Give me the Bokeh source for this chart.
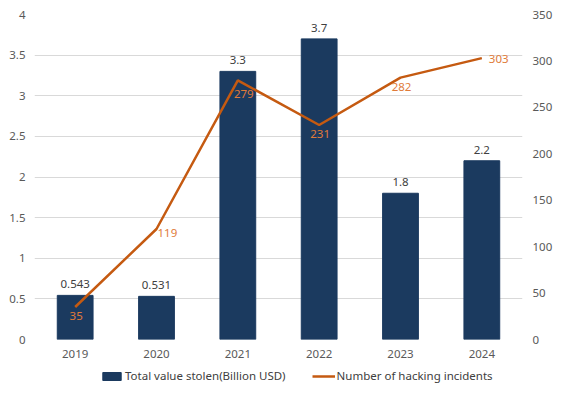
from bokeh.plotting import figure
from bokeh.layouts import column
from bokeh.models import (ColumnDataSource, Range1d, LinearAxis, FixedTicker, LabelSet,
                          Legend, LegendItem)
from bokeh.core.properties import value
from bokeh.embed import file_html
from bokeh.resources import INLINE

years = ["2019", "2020", "2021", "2022", "2023", "2024"]
stolen = [0.543, 0.531, 3.3, 3.7, 1.8, 2.2]
stolen_text = ["0.543", "0.531", "3.3", "3.7", "1.8", "2.2"]
incidents = [35, 119, 279, 231, 282, 303]
incidents_text = ["35", "119", "279", "231", "282", "303"]
left_ticks = [0, 0.5, 1, 1.5, 2, 2.5, 3, 3.5, 4]
left_tick_labels = ["0", "0.5", "1", "1.5", "2", "2.5", "3", "3.5", "4"]
right_ticks = [0, 50, 100, 150, 200, 250, 300, 350]
series_names = ["Total value stolen(Billion USD)", "Number of hacking incidents"]

FONT = "Noto Sans"
FS = "11.5px"
BAR = "#1B3A5F"
LINE = "#C55A11"
LBL_ORANGE = "#E07B39"
GRAY = "#404040"

src = ColumnDataSource(dict(year=years, stolen=stolen, stolen_text=stolen_text,
                            incidents=incidents, incidents_text=incidents_text))


def subset(idx):
    return ColumnDataSource(dict(year=[years[i] for i in idx],
                                 incidents=[incidents[i] for i in idx],
                                 incidents_text=[incidents_text[i] for i in idx]))


p = figure(width=555, height=367, x_range=years, y_range=Range1d(0, 4),
           output_backend="svg", toolbar_location=None,
           min_border_left=34, min_border_right=29, min_border_top=14, min_border_bottom=28)
p.outline_line_color = None
p.extra_y_ranges = {"inc": Range1d(0, 350)}
p.x_range.range_padding = 0

bars = p.vbar(x="year", top="stolen", width=0.44, source=src, color=BAR)
line = p.line(x="year", y="incidents", source=src, y_range_name="inc",
              line_color=LINE, line_width=2.5)

# axes
p.yaxis.ticker = FixedTicker(ticks=left_ticks)
p.yaxis.major_label_overrides = {t: l for t, l in zip(left_ticks, left_tick_labels)}
right = LinearAxis(y_range_name="inc", ticker=FixedTicker(ticks=right_ticks))
p.add_layout(right, "right")
for ax in [p.yaxis[0], right, p.xaxis[0]]:
    ax.axis_line_color = None
    ax.major_tick_line_color = None
    ax.minor_tick_line_color = None
    ax.major_tick_out = 0
    ax.major_tick_in = 0
    ax.major_label_text_font = FONT
    ax.major_label_text_font_size = FS
    ax.major_label_text_color = "#595959"
p.yaxis[0].major_label_standoff = 9
right.major_label_standoff = 10
p.xaxis.major_label_standoff = 10

p.xgrid.grid_line_color = None
p.ygrid.grid_line_color = "#D9D9D9"
p.ygrid.grid_line_width = 1

# bar labels
p.add_layout(LabelSet(x="year", y="stolen", text="stolen_text", source=src,
                      text_align="center", text_baseline="bottom", y_offset=7,
                      text_font=value(FONT), text_font_size=FS, text_color=GRAY))
# line labels below points
p.add_layout(LabelSet(x="year", y="incidents", text="incidents_text", source=subset([0, 3, 4]),
                      y_range_name="inc",
                      text_align="center", text_baseline="top", y_offset=-5, x_offset=1,
                      text_font=value(FONT), text_font_size=FS, text_color=LBL_ORANGE))
p.add_layout(LabelSet(x="year", y="incidents", text="incidents_text", source=subset([2]),
                      y_range_name="inc",
                      text_align="center", text_baseline="top", y_offset=-10, x_offset=6,
                      text_font=value(FONT), text_font_size=FS, text_color=LBL_ORANGE))
# line labels right of points
p.add_layout(LabelSet(x="year", y="incidents", text="incidents_text", source=subset([1]),
                      y_range_name="inc",
                      text_align="left", text_baseline="top", y_offset=0, x_offset=1,
                      text_font=value(FONT), text_font_size=FS, text_color=LBL_ORANGE))
p.add_layout(LabelSet(x="year", y="incidents", text="incidents_text", source=subset([5]),
                      y_range_name="inc",
                      text_align="left", text_baseline="middle", y_offset=-1, x_offset=7,
                      text_font=value(FONT), text_font_size=FS, text_color=LBL_ORANGE))

# legend strip below the chart (its frame aligns with the chart's frame)
leg = figure(width=555, height=19, x_range=Range1d(0, 1), y_range=Range1d(0, 1),
             output_backend="svg", toolbar_location=None,
             x_axis_type=None, y_axis_type=None,
             min_border_left=34, min_border_right=29, min_border_top=0, min_border_bottom=0)
leg.outline_line_color = None
leg.grid.visible = False
lb = leg.vbar(x=[-5], top=[-5], width=0.5, color=BAR)
ll = leg.line(x=[-6, -5], y=[-5, -5], line_color=LINE, line_width=2.5)
legend = Legend(items=[LegendItem(label=series_names[0], renderers=[lb]),
                       LegendItem(label=series_names[1], renderers=[ll])],
                orientation="horizontal", location=(66, 3),
                glyph_width=23, glyph_height=10, label_standoff=2, spacing=26,
                padding=0, margin=0, label_height=14,
                label_text_font=FONT, label_text_font_size=FS, label_text_color=GRAY,
                border_line_color=None, background_fill_alpha=0)
leg.add_layout(legend, "center")

layout = column(p, leg, spacing=0)
open("out.html", "w").write(file_html(layout, INLINE))
